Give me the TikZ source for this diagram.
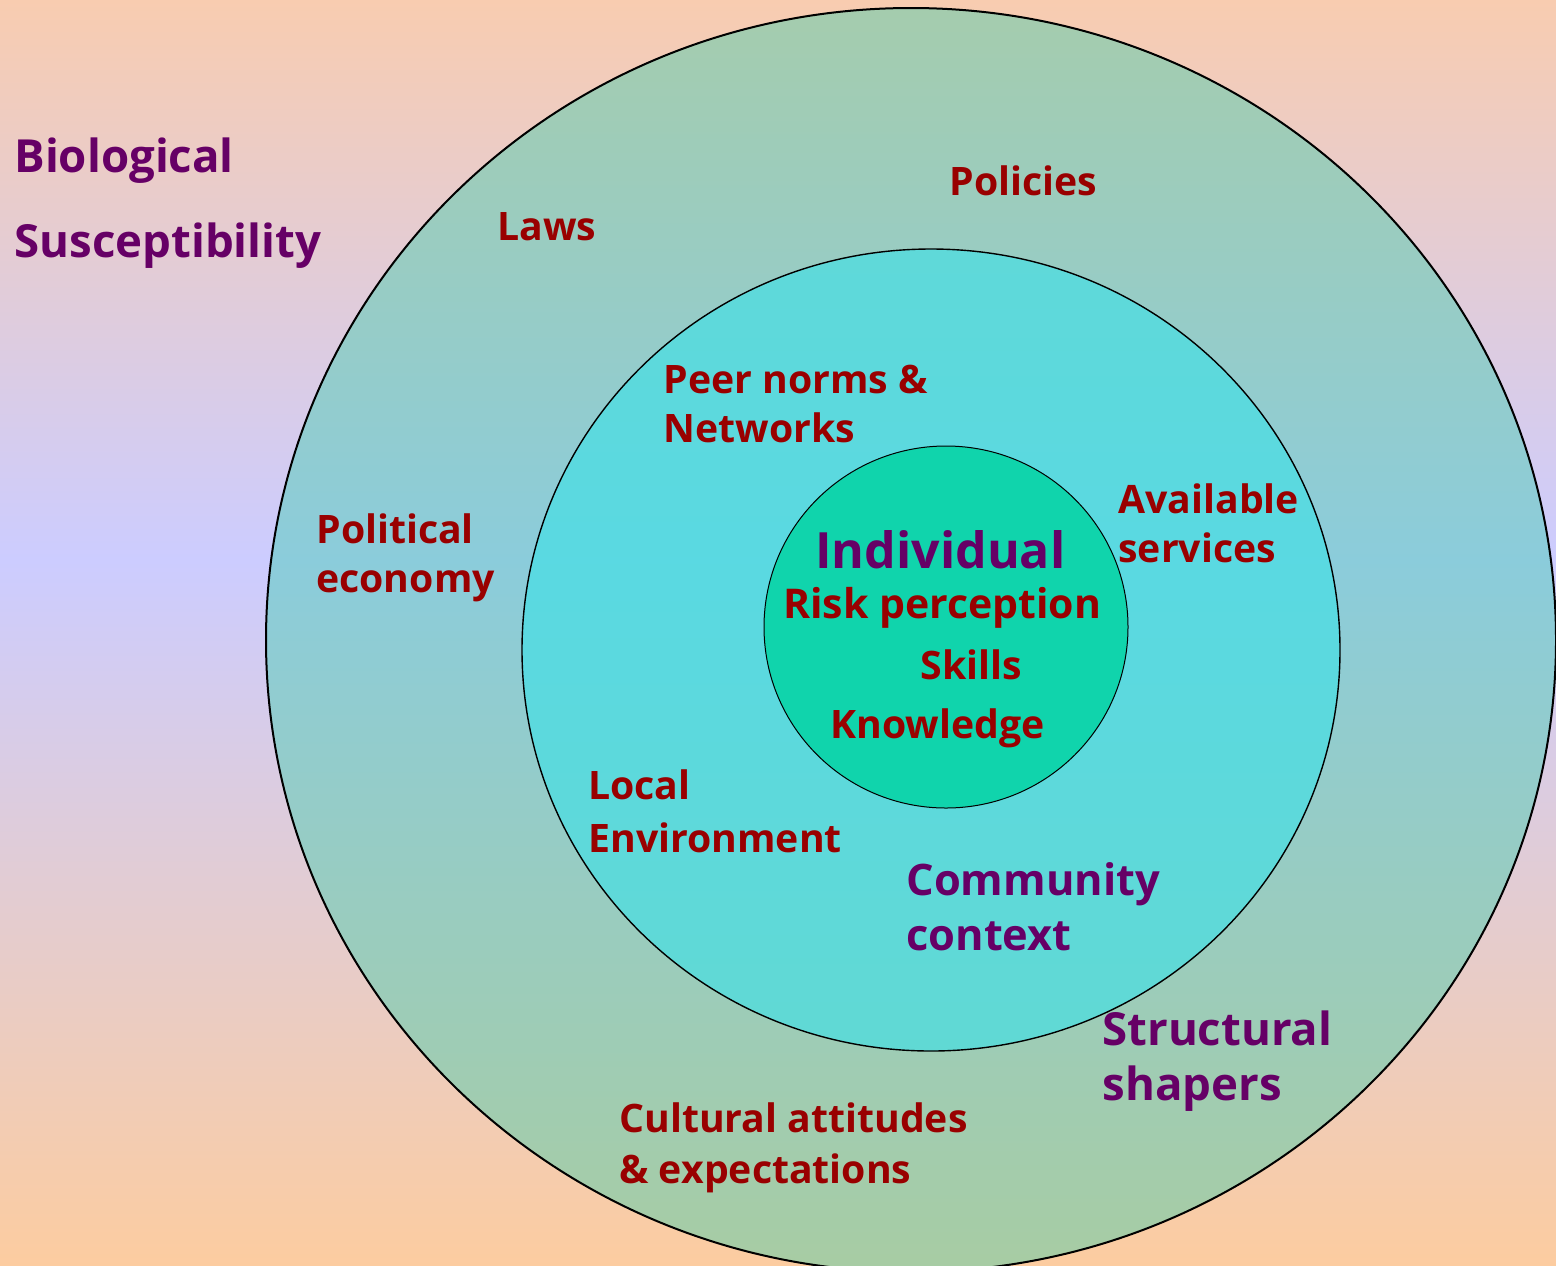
\documentclass[tikz,border=0pt]{standalone}
\usepackage{fontspec}
\setmainfont{Open Sans}
\usetikzlibrary{shapes.geometric}

\definecolor{peach}{RGB}{248,204,176}
\definecolor{peachlow}{RGB}{252,204,160}
\definecolor{lavender}{RGB}{204,204,255}
\definecolor{ringteal}{RGB}{51,204,170}
\definecolor{ringcyan}{RGB}{64,224,230}
\definecolor{coregreen}{RGB}{16,212,172}
\definecolor{labelred}{RGB}{153,0,0}
\definecolor{labelplum}{RGB}{102,0,102}

\begin{document}
\begin{tikzpicture}[x=0.5pt,y=-0.5pt,
  ring/.style={ellipse,draw,inner sep=0pt},
  red label/.style={anchor=base west,align=left,inner sep=0pt,text=labelred,
    font=\bfseries\fontsize{19.6}{24.5}\selectfont},
  plum label/.style={red label,text=labelplum,
    font=\bfseries\fontsize{22.8}{27.5}\selectfont}]

  \useasboundingbox (0,0) rectangle (1556,1265);
  \shade[top color=peach,bottom color=lavender] (0,0) rectangle (1556,560);
  \shade[top color=lavender,bottom color=peachlow] (0,560) rectangle (1556,1265);

  \node[ring,fill=ringteal,fill opacity=0.42,line width=1pt,
    minimum width=645pt,minimum height=632pt] (outer) at (911,640) {};
  \node[ring,fill=ringcyan,fill opacity=0.65,line width=0.7pt,
    minimum width=409pt,minimum height=401pt] (middle) at (931,650) {};
  \node[ring,fill=coregreen,line width=0.5pt,
    minimum width=182pt,minimum height=181pt] (core) at (946,627) {};

  % multi-line labels sit on the baseline of their last line
  \node[plum label] (bio) at (14,257) {Biological\\[15pt]Susceptibility};
  \node[red label] (laws) at (497,240) {Laws};
  \node[red label] (policies) at (949,195) {Policies};
  \node[red label] (peers) at (663,442) {Peer norms \&\\Networks};
  \node[red label] (economy) at (316,592) {Political\\economy};
  \node[red label] (services) at (1118,562) {Available\\services};

  \node[plum label,font=\bfseries\fontsize{25}{30}\selectfont] (individual) at (815,568) {Individual};
  \node[red label,font=\bfseries\fontsize{20.5}{25}\selectfont] (risk) at (783,618) {Risk perception};
  \node[red label] (skills) at (920,679) {Skills};
  \node[red label] (knowledge) at (830,738) {Knowledge};

  \node[red label] (local) at (588,852) {Local\\[2pt]Environment};
  \node[plum label,font=\bfseries\fontsize{21.7}{27.5}\selectfont] (community) at (906,950) {Community\\context};
  \node[plum label] (shapers) at (1102,1100) {Structural\\shapers};
  \node[red label] (culture) at (619,1183) {Cultural attitudes\\[1pt]\& expectations};

\end{tikzpicture}
\end{document}
